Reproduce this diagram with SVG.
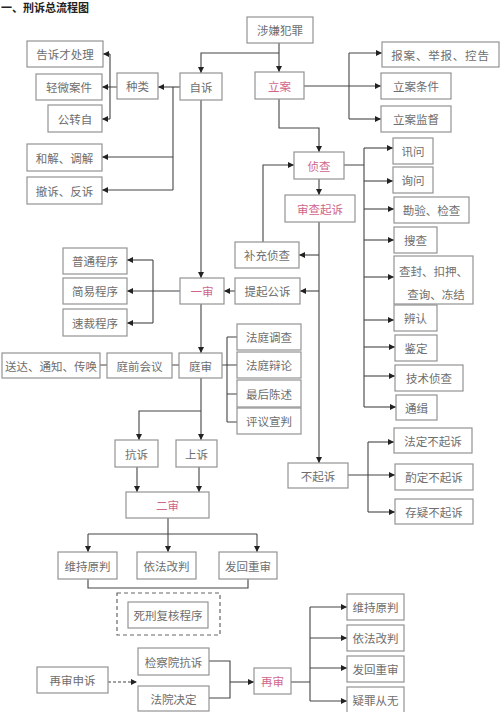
<svg xmlns="http://www.w3.org/2000/svg" width="500" height="712" viewBox="0 0 500 712">
<defs>
<marker id="ah" markerWidth="6" markerHeight="6" refX="6" refY="3" orient="auto" markerUnits="userSpaceOnUse"><path d="M0,0 L6,3 L0,6 z" fill="#222"/></marker>
<style>
.b{fill:#fff;stroke:#939393;stroke-width:1.2}
.t{font-family:"Noto Sans CJK SC","Liberation Sans",sans-serif;font-size:11.5px;fill:#6e6e6e;text-anchor:middle;dominant-baseline:central}
.p{fill:#d0668a}
.c path{fill:none;stroke:#444;stroke-width:1.1}
.c .a{marker-end:url(#ah)}
.c .d{stroke-dasharray:3,2}
</style>
</defs>
<rect width="500" height="712" fill="#fff"/>
<text x="1" y="7" style="font-family:'Noto Sans CJK SC',sans-serif;font-size:11px;font-weight:bold;fill:#222;dominant-baseline:central">一、刑诉总流程图</text>

<g class="c" id="connectors">
<path class="a" d="M279,43 V72"/>
<path class="a" d="M279,53 H201 V73"/>
<path class="a" d="M304,86 H381"/>
<path d="M349,53 V119"/>
<path class="a" d="M349,53 H382"/>
<path class="a" d="M349,119 H381"/>
<path class="a" d="M180,87 H158"/>
<path d="M117,87 H110 M110,54 V119"/>
<path class="a" d="M110,54 H103"/>
<path class="a" d="M110,87 H102"/>
<path class="a" d="M110,119 H102"/>
<path d="M173,87 V190"/>
<path class="a" d="M173,157 H102"/>
<path class="a" d="M173,190 H102"/>
<path class="a" d="M201,100 V278"/>
<path class="a" d="M279,99 V128 H319 V152"/>
<path class="a" d="M319,179 V195"/>
<path class="a" d="M319,222 V463"/>
<path class="a" d="M319,255 H299"/>
<path class="a" d="M319,291 H300"/>
<path class="a" d="M263,242 V165 H294"/>
<path class="a" d="M235,291 H224"/>
<path class="a" d="M180,291 H127"/>
<path d="M153,260 V323"/>
<path class="a" d="M153,260 H127"/>
<path class="a" d="M153,323 H127"/>
<path d="M344,165 H364 M364,148 V407"/>
<path class="a" d="M364,148 H393"/>
<path class="a" d="M364,181 H393"/>
<path class="a" d="M364,209 H394"/>
<path class="a" d="M364,240 H394"/>
<path class="a" d="M364,277 H394"/>
<path class="a" d="M364,320 H394"/>
<path class="a" d="M364,347 H395"/>
<path class="a" d="M364,376 H395"/>
<path class="a" d="M364,407 H396"/>
<path class="a" d="M348,475 H395"/>
<path d="M368,442 V512"/>
<path class="a" d="M368,442 H394"/>
<path class="a" d="M368,512 H395"/>
<path class="a" d="M201,304 V353"/>
<path d="M100,365 H107 M172,365 H179"/>
<path d="M222,365 H237 M227,337 V422 M227,337 H237 M227,394 H237 M227,422 H237"/>
<path class="a" d="M201,378 V440"/>
<path class="a" d="M201,411 H139 V440"/>
<path class="a" d="M137,467 V492"/>
<path class="a" d="M199,467 V492"/>
<path d="M168,518 V534 M88,534 H257"/>
<path class="a" d="M88,534 V552"/>
<path class="a" d="M168,534 V552"/>
<path class="a" d="M257,534 V552"/>
<path d="M88,579 V588 H248 V579"/>
<path class="a d" d="M108,682 H137"/>
<path d="M209,661 H230 V698 H209"/>
<path class="a" d="M230,682 H254"/>
<path d="M291,682 H310 M310,607 V701"/>
<path class="a" d="M310,607 H347"/>
<path class="a" d="M310,638 H347"/>
<path class="a" d="M310,668 H347"/>
<path class="a" d="M310,701 H347"/>
</g>

<g id="n-shexian"><rect class="b" x="247" y="17" width="66" height="26"/><text class="t" x="280" y="30">涉嫌犯罪</text></g>
<g id="n-lian"><rect class="b" x="255" y="72" width="49" height="27"/><text class="t p" x="279.5" y="85.5">立案</text></g>
<g id="n-baoan"><rect class="b" x="382" y="42" width="117" height="25"/><text class="t" x="440.5" y="54.5" letter-spacing="0.8">报案、举报、控告</text></g>
<g id="n-liantiaojian"><rect class="b" x="381" y="73" width="70" height="26"/><text class="t" x="416" y="86">立案条件</text></g>
<g id="n-lianjiandu"><rect class="b" x="381" y="106" width="70" height="26"/><text class="t" x="416" y="119">立案监督</text></g>
<g id="n-zisu"><rect class="b" x="180" y="73" width="42" height="27"/><text class="t" x="201" y="86.5">自诉</text></g>
<g id="n-zhonglei"><rect class="b" x="117" y="73" width="41" height="26"/><text class="t" x="137.5" y="86">种类</text></g>
<g id="n-gaosu"><rect class="b" x="27" y="41" width="76" height="26"/><text class="t" x="65" y="54">告诉才处理</text></g>
<g id="n-qingwei"><rect class="b" x="36" y="74" width="66" height="26"/><text class="t" x="69" y="87">轻微案件</text></g>
<g id="n-gongzhuanzi"><rect class="b" x="48" y="105" width="54" height="27"/><text class="t" x="75" y="118.5">公转自</text></g>
<g id="n-hejie"><rect class="b" x="27" y="144" width="75" height="27"/><text class="t" x="64.5" y="157.5">和解、调解</text></g>
<g id="n-chesu"><rect class="b" x="27" y="177" width="75" height="27"/><text class="t" x="64.5" y="190.5">撤诉、反诉</text></g>
<g id="n-zhencha"><rect class="b" x="294" y="152" width="50" height="27"/><text class="t p" x="319" y="165.5">侦查</text></g>
<g id="n-shencha"><rect class="b" x="285" y="195" width="70" height="27"/><text class="t p" x="320" y="208.5">审查起诉</text></g>
<g id="n-buchong"><rect class="b" x="235" y="242" width="64" height="26"/><text class="t" x="267" y="255">补充侦查</text></g>
<g id="n-tiqi"><rect class="b" x="235" y="278" width="65" height="26"/><text class="t" x="267.5" y="291">提起公诉</text></g>
<g id="n-yishen"><rect class="b" x="180" y="278" width="44" height="26"/><text class="t p" x="202" y="291">一审</text></g>
<g id="n-putong"><rect class="b" x="63" y="248" width="64" height="26"/><text class="t" x="95" y="261">普通程序</text></g>
<g id="n-jianyi"><rect class="b" x="63" y="278" width="64" height="26"/><text class="t" x="95" y="291">简易程序</text></g>
<g id="n-sucai"><rect class="b" x="63" y="309" width="64" height="27"/><text class="t" x="95" y="322.5">速裁程序</text></g>
<g id="n-xunwen"><rect class="b" x="393" y="138" width="40" height="26"/><text class="t" x="413" y="151">讯问</text></g>
<g id="n-xunwen2"><rect class="b" x="393" y="167" width="40" height="26"/><text class="t" x="413" y="180">询问</text></g>
<g id="n-kanyan"><rect class="b" x="394" y="197" width="75" height="26"/><text class="t" x="431.5" y="210">勘验、检查</text></g>
<g id="n-soucha"><rect class="b" x="394" y="227" width="43" height="26"/><text class="t" x="415.5" y="240">搜查</text></g>
<g id="n-chafeng"><rect class="b" x="394" y="256" width="79" height="48"/><text class="t" x="433.5" y="271">查封、扣押、</text><text class="t" x="436" y="294">查询、冻结</text></g>
<g id="n-bianren"><rect class="b" x="394" y="305" width="43" height="26"/><text class="t" x="415.5" y="318">辨认</text></g>
<g id="n-jianding"><rect class="b" x="395" y="335" width="42" height="26"/><text class="t" x="416" y="348">鉴定</text></g>
<g id="n-jishu"><rect class="b" x="395" y="365" width="68" height="26"/><text class="t" x="429" y="378">技术侦查</text></g>
<g id="n-tongji"><rect class="b" x="396" y="395" width="41" height="25"/><text class="t" x="416.5" y="407.5">通缉</text></g>
<g id="n-buqisu"><rect class="b" x="288" y="463" width="60" height="25"/><text class="t" x="318" y="475.5">不起诉</text></g>
<g id="n-fading"><rect class="b" x="394" y="428" width="78" height="25"/><text class="t" x="433" y="440.5">法定不起诉</text></g>
<g id="n-zhuoding"><rect class="b" x="395" y="464" width="78" height="26"/><text class="t" x="434" y="477">酌定不起诉</text></g>
<g id="n-cunyi"><rect class="b" x="395" y="499" width="78" height="25"/><text class="t" x="434" y="511.5">存疑不起诉</text></g>
<g id="n-songda"><rect class="b" x="2" y="353" width="98" height="25"/><text class="t" x="51" y="365.5">送达、通知、传唤</text></g>
<g id="n-tingqian"><rect class="b" x="107" y="353" width="65" height="25"/><text class="t" x="139.5" y="365.5">庭前会议</text></g>
<g id="n-tingshen"><rect class="b" x="179" y="353" width="43" height="25"/><text class="t" x="200.5" y="365.5">庭审</text></g>
<g id="n-fatingdiaocha"><rect class="b" x="237" y="324" width="64" height="26"/><text class="t" x="269" y="337">法庭调查</text></g>
<g id="n-fatingbianlun"><rect class="b" x="237" y="352" width="64" height="26"/><text class="t" x="269" y="365">法庭辩论</text></g>
<g id="n-zuihou"><rect class="b" x="237" y="380" width="64" height="27"/><text class="t" x="269" y="393.5">最后陈述</text></g>
<g id="n-pingyi"><rect class="b" x="237" y="408" width="64" height="26"/><text class="t" x="269" y="421">评议宣判</text></g>
<g id="n-kangsu"><rect class="b" x="115" y="440" width="43" height="27"/><text class="t" x="136.5" y="453.5">抗诉</text></g>
<g id="n-shangsu"><rect class="b" x="176" y="440" width="41" height="27"/><text class="t" x="196.5" y="453.5">上诉</text></g>
<g id="n-ershen"><rect class="b" x="126" y="492" width="83" height="26"/><text class="t p" x="167.5" y="505">二审</text></g>
<g id="n-weichi1"><rect class="b" x="58" y="552" width="59" height="27"/><text class="t" x="87.5" y="565.5">维持原判</text></g>
<g id="n-yifa1"><rect class="b" x="137" y="552" width="59" height="27"/><text class="t" x="166.5" y="565.5">依法改判</text></g>
<g id="n-fahui1"><rect class="b" x="219" y="552" width="58" height="27"/><text class="t" x="248" y="565.5">发回重审</text></g>
<g id="n-sixing"><rect x="117" y="593" width="103" height="42" fill="none" stroke="#666" stroke-width="1.2" stroke-dasharray="4,3"/><rect class="b" x="128" y="602" width="80" height="26"/><text class="t" x="168" y="615">死刑复核程序</text></g>
<g id="n-zaishenshensu"><rect class="b" x="37" y="667" width="71" height="26"/><text class="t" x="72.5" y="680">再审申诉</text></g>
<g id="n-jianchayuan"><rect class="b" x="138" y="648" width="71" height="27"/><text class="t" x="173.5" y="661.5">检察院抗诉</text></g>
<g id="n-fayuan"><rect class="b" x="138" y="686" width="71" height="25"/><text class="t" x="173.5" y="698.5">法院决定</text></g>
<g id="n-zaishen"><rect class="b" x="254" y="668" width="37" height="26"/><text class="t p" x="272.5" y="681">再审</text></g>
<g id="n-weichi2"><rect class="b" x="347" y="594" width="57" height="26"/><text class="t" x="375.5" y="607">维持原判</text></g>
<g id="n-yifa2"><rect class="b" x="347" y="625" width="57" height="26"/><text class="t" x="375.5" y="638">依法改判</text></g>
<g id="n-fahui2"><rect class="b" x="347" y="656" width="57" height="26"/><text class="t" x="375.5" y="669">发回重审</text></g>
<g id="n-yizui"><rect class="b" x="347" y="687" width="57" height="26"/><text class="t" x="375.5" y="700">疑罪从无</text></g>
</svg>
